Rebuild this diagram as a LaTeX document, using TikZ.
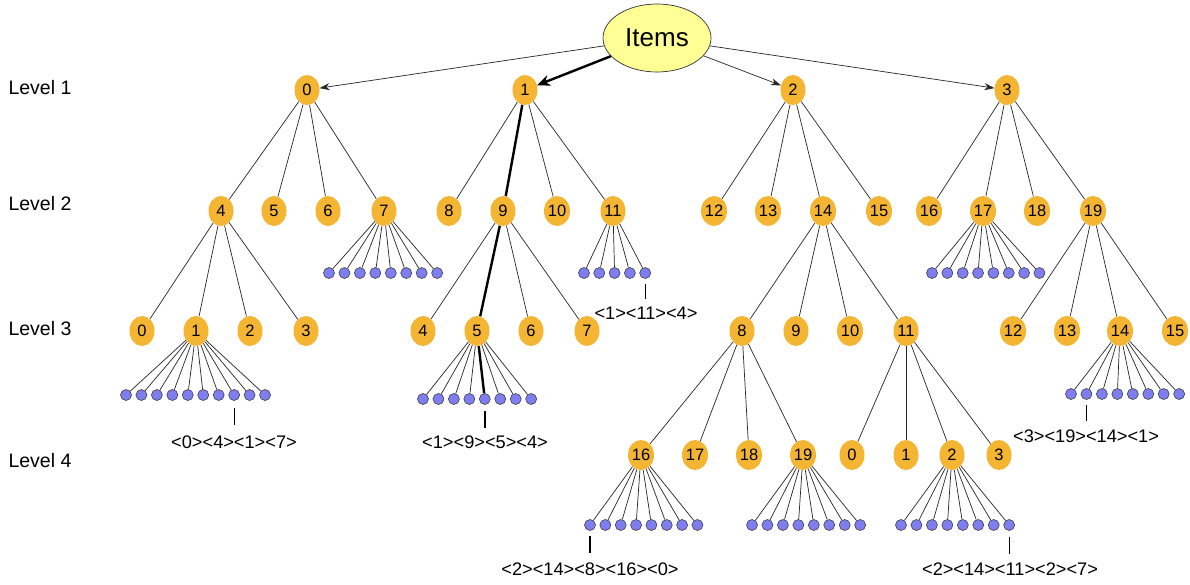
\documentclass[tikz,border=0pt]{standalone}
\usepackage{fontspec}
\setmainfont{Liberation Sans}
\usetikzlibrary{shapes.geometric,arrows.meta}
\definecolor{orangeN}{RGB}{243,181,50}
\definecolor{dotB}{RGB}{126,126,240}
\definecolor{itemY}{RGB}{255,255,150}
\begin{document}
\begin{tikzpicture}[x=1pt,y=-1pt,
  nd/.style={ellipse,fill=orangeN,minimum width=25pt,minimum height=30pt,inner sep=0pt,font=\fontsize{16.5}{16.5}\selectfont},
  dotn/.style={circle,draw=black!75,line width=0.6pt,fill=dotB,minimum size=11pt,inner sep=0pt},
  lvl/.style={anchor=west,font=\fontsize{19.5}{19.5}\selectfont},
  pathlab/.style={font=\fontsize{18.2}{18.2}\selectfont},
  edge/.style={draw=black!85,line width=0.7pt},
  hot/.style={draw=black,line width=2.4pt},
  arr/.style={edge,-{Stealth[length=10pt,width=7pt]}},
  hotarr/.style={hot,-{Stealth[length=13pt,width=11pt]}},
  tick/.style={draw=black,line width=1.2pt}
]
\useasboundingbox[fill=white] (0,0) rectangle (1190,584);

% level labels
\node[lvl] (lv1) at (5,88) {Level 1};
\node[lvl] (lv2) at (5,204) {Level 2};
\node[lvl] (lv3) at (5,329) {Level 3};
\node[lvl] (lv4) at (5,461) {Level 4};

% root
\node[ellipse,draw=black!80,line width=0.7pt,fill=itemY,minimum width=108pt,minimum height=68pt,inner sep=0pt,font=\fontsize{26}{26}\selectfont] (I) at (657,38) {Items};

% level 1
\foreach \n/\x in {0/307,1/525,2/793,3/1007}
  \node[nd] (a\n) at (\x,90) {\n};

% level 2
\foreach \n/\x in {4/221,5/274,6/328,7/384,8/449,9/503,10/557,11/613,12/714,13/768,14/823,15/879,16/929,17/983,18/1037,19/1093}
  \node[nd] (b\n) at (\x,211) {\n};

% level 3
\foreach \n/\x in {0/142,1/196,2/250,3/306,4/423,5/477,6/531,7/587,8/742,9/796,10/850,11/906,12/1013,13/1067,14/1120,15/1175}
  \node[nd] (c\n) at (\x,331) {\n};

% level 4
\foreach \n/\x in {16/641,17/695,18/749,19/803,0/852,1/906,2/952,3/999}
  \node[nd] (d\n) at (\x,455) {\n};

% root arrows
\draw[arr] (I) -- (a0);
\draw[hotarr] (I) -- (a1);
\draw[arr] (I) -- (a2);
\draw[arr] (I) -- (a3);

% level 1 -> level 2
\foreach \c in {4,5,6,7} \draw[edge] (a0) -- (b\c);
\foreach \c in {8,10,11} \draw[edge] (a1) -- (b\c);
\draw[hot] (a1) -- (b9);
\foreach \c in {12,13,14,15} \draw[edge] (a2) -- (b\c);
\foreach \c in {16,17,18,19} \draw[edge] (a3) -- (b\c);

% level 2 -> level 3
\foreach \c in {0,1,2,3} \draw[edge] (b4) -- (c\c);
\foreach \c in {4,6,7} \draw[edge] (b9) -- (c\c);
\draw[hot] (b9) -- (c5);
\foreach \c in {8,9,10,11} \draw[edge] (b14) -- (c\c);
\foreach \c in {12,13,14,15} \draw[edge] (b19) -- (c\c);

% level 3 -> level 4
\foreach \c in {16,17,18,19} \draw[edge] (c8) -- (d\c);
\foreach \c in {0,1,2,3} \draw[edge] (c11) -- (d\c);

% dot fans
\foreach \i in {0,...,7} {\node[dotn] (f7-\i) at ({329+\i*15.45},273) {}; \draw[edge] (b7) -- (f7-\i);}
\foreach \i in {0,...,4} {\node[dotn] (f11-\i) at ({584+\i*15.3},273) {}; \draw[edge] (b11) -- (f11-\i);}
\foreach \i in {0,...,7} {\node[dotn] (f17-\i) at ({932+\i*15.35},273) {}; \draw[edge] (b17) -- (f17-\i);}
\foreach \i in {0,...,9} {\node[dotn] (g1-\i) at ({126+\i*15.45},395) {}; \draw[edge] (c1) -- (g1-\i);}
\foreach \i in {0,1,2,3,5,6,7} {\node[dotn] (g5-\i) at ({423+\i*15.45},399) {}; \draw[edge] (c5) -- (g5-\i);}
\node[dotn] (g5-4) at ({423+4*15.45},399) {}; \draw[hot] (c5) -- (g5-4);
\foreach \i in {0,...,7} {\node[dotn] (g14-\i) at ({1071+\i*15.45},394) {}; \draw[edge] (c14) -- (g14-\i);}
\foreach \i in {0,...,7} {\node[dotn] (h16-\i) at ({590+\i*15.35},525) {}; \draw[edge] (d16) -- (h16-\i);}
\foreach \i in {0,...,7} {\node[dotn] (h19-\i) at ({752+\i*15.45},525) {}; \draw[edge] (d19) -- (h19-\i);}
\foreach \i in {0,...,7} {\node[dotn] (h2-\i) at ({901+\i*15.45},525) {}; \draw[edge] (d2) -- (h2-\i);}

% path labels
\draw[tick] (f11-4.south) ++(0,5) -- ++(0,15);
\node[pathlab] (p1) at (646,313) {<1><11><4>};
\draw[tick] (g1-7.south) ++(0,7) -- ++(0,17);
\node[pathlab] (p2) at (234,442) {<0><4><1><7>};
\draw[hot] (g5-4.south) ++(0,6) -- ++(0,17);
\node[pathlab] (p3) at (485,442) {<1><9><5><4>};
\draw[tick] (g14-1.south) ++(0,5) -- ++(0,16);
\node[pathlab] (p4) at (1086,436) {<3><19><14><1>};
\draw[tick] (h16-0.south) ++(0,5) -- ++(0,17);
\node[pathlab] (p5) at (590,569) {<2><14><8><16><0>};
\draw[tick] (h2-7.south) ++(0,6) -- ++(0,17);
\node[pathlab] (p6) at (1010,569) {<2><14><11><2><7>};
\end{tikzpicture}
\end{document}
